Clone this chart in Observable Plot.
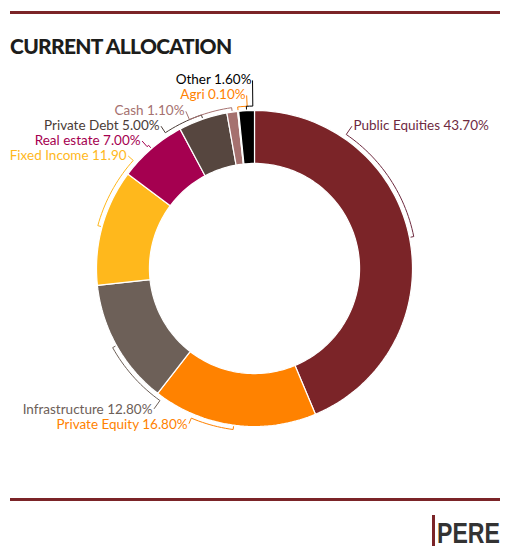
<!DOCTYPE html>
<html>
<head>
<meta charset="utf-8">
<script src="https://cdn.jsdelivr.net/npm/d3@7"></script>
<script src="https://cdn.jsdelivr.net/npm/@observablehq/plot@0.6"></script>
<style>
    body { margin: 0; background: #fff; }
    #page { position: relative; width: 514px; height: 554px; overflow: hidden; }
    #chart { position: absolute; left: 0; top: 0; }
    .rule { position: absolute; left: 10px; width: 490px; background: #7b2428; }
    #title {
        position: absolute; left: 10px; top: 33px; margin: 0;
        font: 900 21px Lato, sans-serif; letter-spacing: -0.7px; color: #1d1d1b;
    }
    #logo { position: absolute; left: 430px; top: 512px; }
</style>
</head>
<body>
<div id="page">
    <div id="chart"></div>
    <div class="rule" style="top: 11px; height: 3px"></div>
    <h2 id="title">CURRENT ALLOCATION</h2>
    <div class="rule" style="top: 498px; height: 3px"></div>
    <svg id="logo" width="80" height="40">
        <rect x="2" y="3" width="3" height="31" fill="#7b2428"></rect>
        <g transform="translate(7,30.5) scale(0.77,1)">
            <text x="0" y="0" font-family="Liberation Sans, Arial, sans-serif" font-weight="700"
                  font-size="30" fill="#333">PERE</text>
        </g>
    </svg>
</div>
<script>
// values, clockwise from 12 o'clock
const categories = [
    "Public Equities", "Private Equity", "Infrastructure", "Fixed Income",
    "Real estate", "Private Debt", "Cash", "Agri", "Other",
];
const shares = [43.7, 16.8, 12.8, 11.9, 7.0, 5.0, 1.1, 0.1, 1.6];
const labels = [
    "Public Equities 43.70%", "Private Equity 16.80%", "Infrastructure 12.80%",
    "Fixed Income 11.90", "Real estate 7.00%", "Private Debt 5.00%",
    "Cash 1.10%", "Agri 0.10%", "Other 1.60%",
];

// styling / layout (not data)
const palette = [
    "#7b2428", "#ff8200", "#6d6058", "#ffb81c",
    "#a50050", "#56463f", "#a5716f", "#f08a24", "#000000",
];
const labelColors = [
    "#6e2a3f", "#ff8200", "#6d6058", "#ffb81c",
    "#a50050", "#4a3c37", "#a5716f", "#ff8200", "#000000",
];
// where each label hangs on the ring: [angle in degrees, radius in ring units]
const labelSpots = [
    [34.4, 1.097], [202.9, 1.072], [215.6, 1.098], [311.7, 1.076],
    [318.6, 1.081], [326.7, 1.083], [336.4, 1.091], [357.4, 1.102], [359.4, 1.196],
];

const W = 514, H = 554;
const cx = 254, cy = 268, R = 158; // donut centre and outer radius in px
const rInner = 0.665, rTick = 1.01, rBracket = 1.028;

const rad = (deg) => (deg * Math.PI) / 180;
const pt = (deg, r) => ({ x: Math.sin(rad(deg)) * r, y: Math.cos(rad(deg)) * r });
const arcPts = (a0, a1, r) => {
    const n = Math.max(1, Math.ceil(Math.abs(a1 - a0) / 1.5));
    return d3.range(n + 1).map((k) => pt(a0 + ((a1 - a0) * k) / n, r));
};

const total = d3.sum(shares);
let acc = 0;
const slices = categories.map((name, i) => {
    const a0 = (acc / total) * 360;
    acc += shares[i];
    const a1 = (acc / total) * 360;
    return { name, a0, a1, mid: (a0 + a1) / 2, label: labels[i], spot: labelSpots[i] };
});

// ring segments as closed outlines
const ring = slices.flatMap((s) => {
    const outer = arcPts(s.a0, s.a1, 1);
    const inner = arcPts(s.a1, s.a0, rInner);
    return [...outer, ...inner, outer[0]].map((p) => ({ ...p, name: s.name }));
});

// bracket leaders: tick at the slice middle, arc towards the label, then out to it
const leaders = slices.flatMap((s) => {
    const [la, lr] = s.spot;
    const pts = [
        pt(s.mid, rTick),
        ...arcPts(s.mid, la, rBracket),
        pt(la, lr - 0.008),
    ];
    return pts.map((p) => ({ ...p, name: s.name }));
});

const labelData = slices.map((s, i) => ({
    ...pt(s.spot[0], s.spot[1]),
    text: s.label,
    color: labelColors[i],
    right: s.spot[0] < 180,
}));

const chart = Plot.plot({
    width: W,
    height: H,
    margin: 0,
    x: { axis: null, domain: [-cx / R, (W - cx) / R] },
    y: { axis: null, domain: [-(H - cy) / R, cy / R] },
    color: { type: "ordinal", domain: categories, range: palette },
    style: { background: "transparent", overflow: "visible" },
    marks: [
        Plot.line(ring, {
            x: "x", y: "y", z: "name", fill: "name",
            stroke: "white", strokeWidth: 1.2, curve: "linear",
        }),
        Plot.line(leaders, {
            x: "x", y: "y", z: "name",
            stroke: (d) => labelColors[categories.indexOf(d.name)],
            strokeWidth: 1, curve: "linear",
        }),
        Plot.text(labelData.filter((d) => d.right), {
            x: "x", y: "y", text: "text", fill: "color",
            textAnchor: "start", dx: 1, fontSize: 13.5,
            fontFamily: "Lato, sans-serif",
        }),
        Plot.text(labelData.filter((d) => !d.right), {
            x: "x", y: "y", text: "text", fill: "color",
            textAnchor: "end", dx: -1, fontSize: 13.5,
            fontFamily: "Lato, sans-serif",
        }),
    ],
});

document.querySelector("#chart").append(chart);
</script>
</body>
</html>
